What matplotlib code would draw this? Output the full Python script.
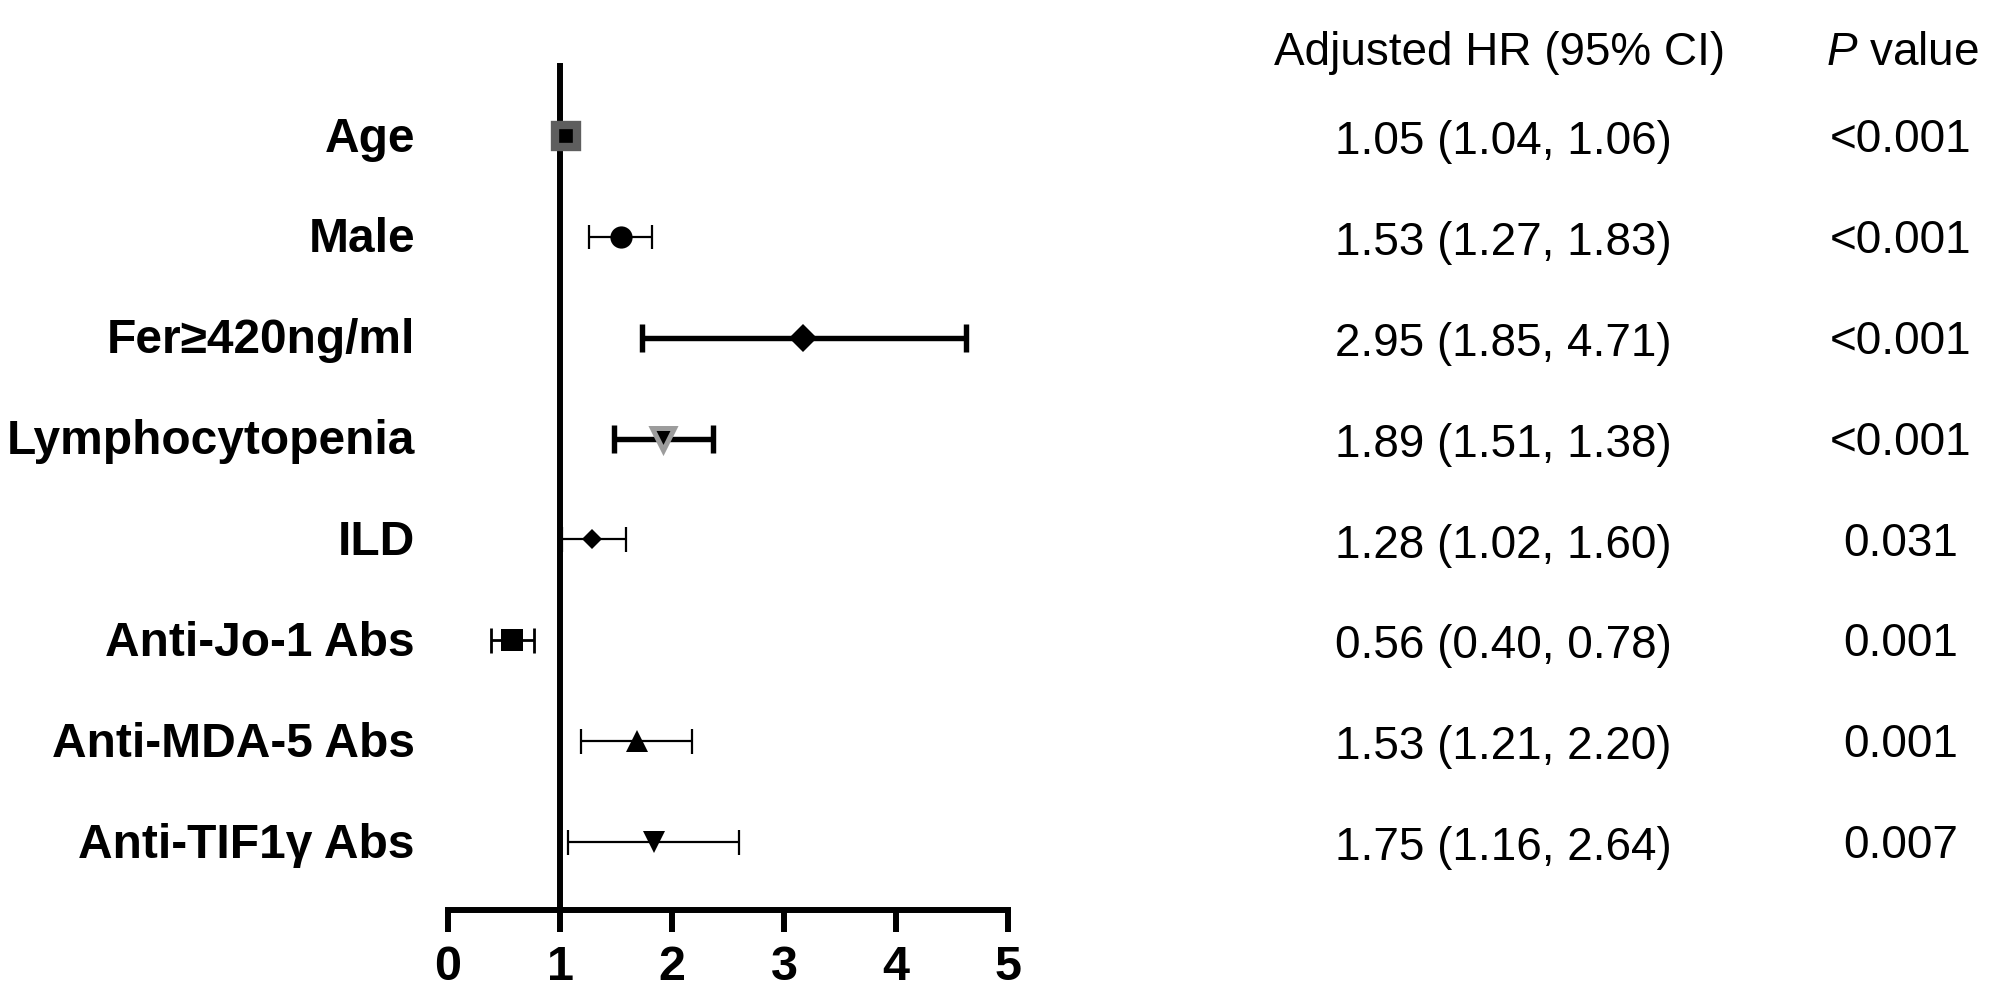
#!/usr/bin/env python

import matplotlib.pyplot as plt
import matplotlib.transforms as mtransforms

plt.rcParams['font.family'] = ['Liberation Sans', 'DejaVu Sans']
plt.rcParams['mathtext.fontset'] = 'custom'
plt.rcParams['mathtext.rm'] = 'Liberation Sans'
plt.rcParams['mathtext.it'] = 'Liberation Sans:italic'

######################################################################################################################
# data (plotted positions, text columns as printed)

labels = ['Age', 'Male', 'Fer≥420ng/ml', 'Lymphocytopenia', 'ILD',
          'Anti-Jo-1 Abs', 'Anti-MDA-5 Abs', 'Anti-TIF1γ Abs']
hr = [1.05, 1.545, 3.17, 1.92, 1.29, 0.57, 1.69, 1.84]
ci_low = [1.04, 1.26, 1.73, 1.48, 1.02, 0.38, 1.19, 1.07]
ci_high = [1.06, 1.82, 4.625, 2.37, 1.59, 0.77, 2.18, 2.60]

hr_text = ['1.05 (1.04, 1.06)', '1.53 (1.27, 1.83)', '2.95 (1.85, 4.71)', '1.89 (1.51, 1.38)',
           '1.28 (1.02, 1.60)', '0.56 (0.40, 0.78)', '1.53 (1.21, 2.20)', '1.75 (1.16, 2.64)']
p_text = ['<0.001', '<0.001', '<0.001', '<0.001', '0.031', '0.001', '0.001', '0.007']

xticks = [0, 1, 2, 3, 4, 5]

# marker styles per row: marker, size, face, edge, edge width, bar width, cap size
styles = [
    ('s', 16.5, 'black', '#5e5e5e', 6.0, 1.6, 8.6),
    ('o', 16, 'black', 'black', 0.0, 1.6, 8.6),
    ('D', 14.5, 'black', 'black', 0.0, 3.9, 10.0),
    ('v', 15.5, 'black', '#9c9c9c', 3.6, 3.9, 10.0),
    ('D', 10.5, 'black', 'black', 0.0, 1.6, 9.0),
    ('s', 16.5, 'black', 'black', 0.0, 2.0, 9.0),
    ('^', 16.5, 'black', 'black', 0.0, 1.6, 9.0),
    ('v', 16, 'black', 'black', 0.0, 1.6, 9.0),
]

######################################################################################################################
fig = plt.figure(figsize=(20, 10.06), dpi=100)
ax = fig.add_axes([0.224, 0.0954, 0.28, 0.839])

for i in range(len(labels)):
    m, ms, fc, ec, mew, lw, cs = styles[i]
    ax.errorbar([hr[i]], [i], xerr=[[hr[i] - ci_low[i]], [ci_high[i] - hr[i]]],
                fmt='none', ecolor='black', elinewidth=lw, capsize=cs, capthick=lw,
                clip_on=False, zorder=3)
    ax.plot([hr[i]], [i], marker=m, markersize=ms, markerfacecolor=fc,
            markeredgecolor=ec, markeredgewidth=mew, linestyle='none',
            clip_on=False, zorder=4)

ax.set_xlim(0, 5)
ax.set_ylim(7.674, -0.694)

ax.spines['top'].set_visible(False)
ax.spines['right'].set_visible(False)
ax.spines['left'].set_position(('data', 1))
ax.spines['left'].set_linewidth(4.3)
ax.spines['left'].set_zorder(2)
ax.spines['bottom'].set_linewidth(4.3)
ax.spines['bottom'].set_bounds(0, 5)
ax.spines['bottom'].set_capstyle('projecting')

ax.set_yticks([])
ax.set_xticks(xticks)
ax.set_xticklabels([str(t) for t in xticks], fontsize=35, fontweight='bold')
ax.tick_params(axis='x', direction='out', length=16, width=4.3, pad=9)

######################################################################################################################
# row labels and table columns
ytrans = ax.get_yaxis_transform()
fig_x = mtransforms.blended_transform_factory(fig.transFigure, ax.transData)
for i in range(len(labels)):
    ax.text(-0.059, i + 0.155, labels[i], transform=ytrans, ha='right', va='baseline',
            fontsize=34.5, fontweight='bold', clip_on=False)
    ax.text(0.7515, i + 0.18, hr_text[i], transform=fig_x, ha='center', va='baseline',
            fontsize=33, clip_on=False)
    ax.text(0.9505, i + 0.16, p_text[i], transform=fig_x, ha='center', va='baseline',
            fontsize=33, clip_on=False)

fig.text(0.75, 1 - 65 / 1006, 'Adjusted HR (95% CI)', ha='center', va='baseline', fontsize=33)
fig.text(0.9515, 1 - 65 / 1006, r'$\mathit{P}$ value', ha='center', va='baseline', fontsize=33)

plt.savefig('out.png', dpi=100)
